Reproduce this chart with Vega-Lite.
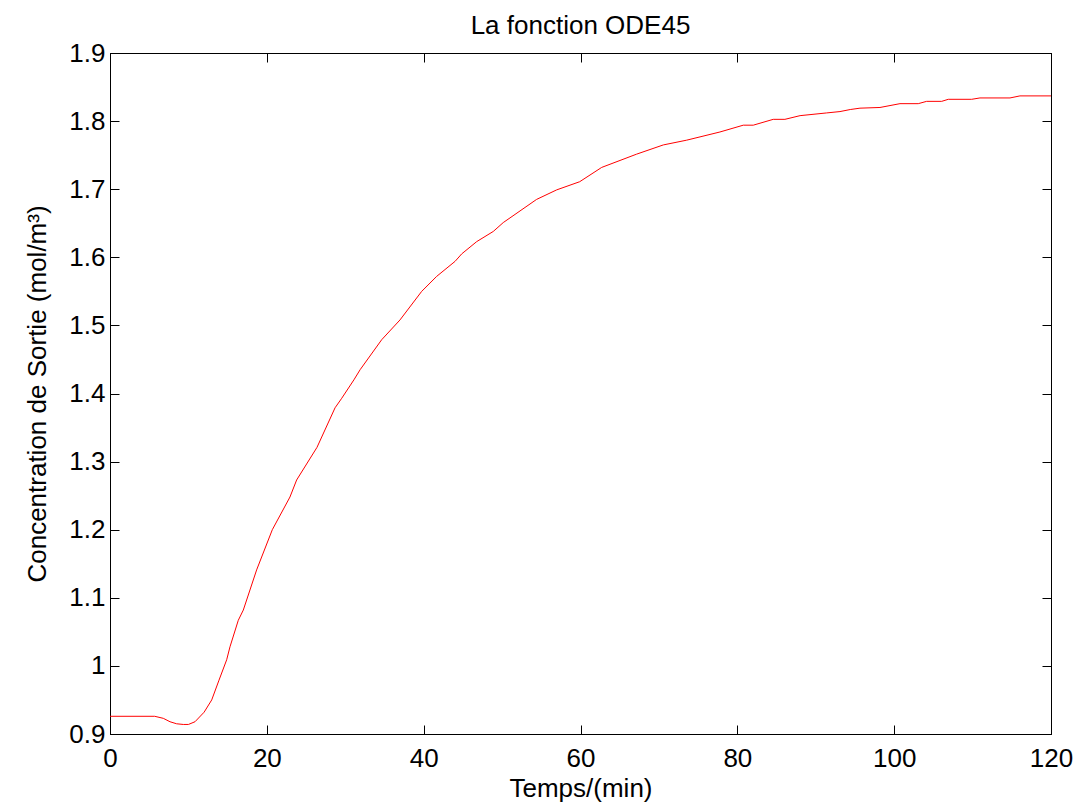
{
  "$schema": "https://vega.github.io/schema/vega-lite/v6.json",
  "autosize": "none",
  "width": 941,
  "height": 681,
  "padding": {"left": 110, "top": 53, "right": 31, "bottom": 71},
  "background": "white",
  "title": {"text": "La fonction ODE45", "fontSize": 26, "font": "Liberation Sans", "fontWeight": "normal", "color": "black", "offset": 1, "anchor": "middle"},
  "config": {
    "view": {"stroke": "black", "strokeWidth": 1},
    "axis": {"grid": false, "domainColor": "black", "tickColor": "black", "labelColor": "black", "titleColor": "black", "labelFont": "Liberation Sans", "titleFont": "Liberation Sans", "labelFontSize": 26, "titleFontSize": 26, "titleFontWeight": "normal", "tickSize": -9, "tickWidth": 1, "domainWidth": 1}
  },
  "data": {"values": [
    {"t": 0, "c": 0.926}, {"t": 5.7, "c": 0.926}, {"t": 6.8, "c": 0.923}, {"t": 7.65, "c": 0.918},
    {"t": 8.5, "c": 0.915}, {"t": 9.35, "c": 0.914}, {"t": 10.0, "c": 0.914}, {"t": 10.84, "c": 0.918},
    {"t": 12.0, "c": 0.932}, {"t": 12.97, "c": 0.95}, {"t": 13.9, "c": 0.979}, {"t": 14.88, "c": 1.009},
    {"t": 15.3, "c": 1.028}, {"t": 16.36, "c": 1.067}, {"t": 17.0, "c": 1.082}, {"t": 18.7, "c": 1.141},
    {"t": 20.7, "c": 1.2}, {"t": 22.95, "c": 1.248}, {"t": 23.8, "c": 1.273}, {"t": 26.4, "c": 1.321},
    {"t": 28.7, "c": 1.379}, {"t": 29.55, "c": 1.393}, {"t": 31.1, "c": 1.42}, {"t": 31.9, "c": 1.435},
    {"t": 34.65, "c": 1.479}, {"t": 36.98, "c": 1.508}, {"t": 39.75, "c": 1.55}, {"t": 41.66, "c": 1.572},
    {"t": 44.0, "c": 1.594}, {"t": 44.85, "c": 1.605}, {"t": 46.76, "c": 1.623}, {"t": 48.88, "c": 1.638},
    {"t": 50.15, "c": 1.651}, {"t": 54.4, "c": 1.685}, {"t": 56.96, "c": 1.699}, {"t": 59.9, "c": 1.711},
    {"t": 62.7, "c": 1.732}, {"t": 67.16, "c": 1.7515}, {"t": 70.56, "c": 1.765}, {"t": 73.54, "c": 1.772},
    {"t": 77.78, "c": 1.784}, {"t": 80.76, "c": 1.794}, {"t": 82.03, "c": 1.794}, {"t": 84.58, "c": 1.8026},
    {"t": 86.07, "c": 1.8026}, {"t": 88.0, "c": 1.808}, {"t": 91.39, "c": 1.812}, {"t": 93.09, "c": 1.814},
    {"t": 94.4, "c": 1.817}, {"t": 95.64, "c": 1.819}, {"t": 98.19, "c": 1.82}, {"t": 100.74, "c": 1.8256},
    {"t": 103.07, "c": 1.8256}, {"t": 104.14, "c": 1.829}, {"t": 106.06, "c": 1.829}, {"t": 106.9, "c": 1.832},
    {"t": 109.88, "c": 1.832}, {"t": 110.94, "c": 1.834}, {"t": 114.77, "c": 1.834}, {"t": 116.04, "c": 1.837},
    {"t": 120, "c": 1.837}
  ]},
  "layer": [
    {
      "mark": {"type": "line", "color": "#ff0000", "strokeWidth": 1, "clip": true},
      "encoding": {
        "x": {"field": "t", "type": "quantitative", "scale": {"domain": [0, 120], "nice": false, "zero": false},
              "axis": {"title": "Temps/(min)", "values": [0, 20, 40, 60, 80, 100, 120], "format": "d", "labelPadding": 20, "titlePadding": 4, "labelFlush": false}},
        "y": {"field": "c", "type": "quantitative", "scale": {"domain": [0.9, 1.9], "nice": false, "zero": false},
              "axis": {"title": "Concentration de Sortie (mol/m³)", "values": [0.9, 1, 1.1, 1.2, 1.3, 1.4, 1.5, 1.6, 1.7, 1.8, 1.9], "format": "~g", "labelPadding": 14, "titlePadding": 18, "labelFlush": false}}
      }
    },
    {
      "mark": {"type": "line", "color": "#ff0000", "strokeWidth": 1, "opacity": 0},
      "encoding": {
        "x": {"field": "t", "type": "quantitative", "axis": {"orient": "top", "labels": false, "title": null, "values": [0, 20, 40, 60, 80, 100, 120]}},
        "y": {"field": "c", "type": "quantitative", "axis": {"orient": "right", "labels": false, "title": null, "values": [0.9, 1, 1.1, 1.2, 1.3, 1.4, 1.5, 1.6, 1.7, 1.8, 1.9]}}
      }
    }
  ],
  "resolve": {"axis": {"x": "independent", "y": "independent"}}
}
